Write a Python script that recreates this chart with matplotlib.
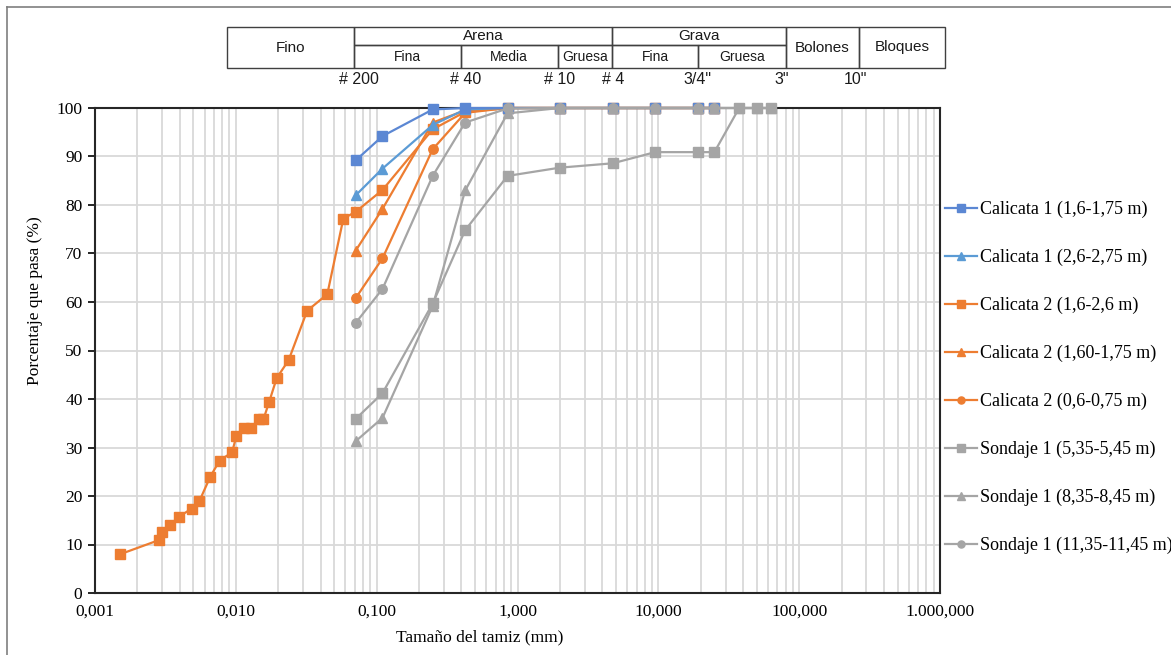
import matplotlib
matplotlib.use('Agg')
import matplotlib.pyplot as plt
from matplotlib.ticker import LogLocator, NullFormatter
from matplotlib.transforms import blended_transform_factory
from matplotlib.lines import Line2D
from matplotlib.patches import Rectangle

# tamices (mm)
sieves_c = [0.071, 0.11, 0.25, 0.425, 0.85, 2.0, 4.75, 9.5, 19.0, 25.0]
sieves_s = [0.071, 0.11, 0.25, 0.425, 0.85, 2.0, 4.75, 9.5, 19.0, 25.0, 37.5, 50.0, 63.0]

c1_a = [89.2, 94.2, 99.7, 100, 100, 100, 100, 100, 100, 100]
c1_b = [82.0, 87.5, 96.5, 99.7, 100, 100, 100, 100, 100, 100]

# Calicata 2 (1,6-2,6 m): hidrometro + tamizado
c2_a_x = [0.00151, 0.00284, 0.0030, 0.0034, 0.00394, 0.00485, 0.0055, 0.00659,
          0.00767, 0.0094, 0.0101, 0.0114, 0.0128, 0.0145, 0.0157, 0.0172,
          0.0195, 0.0237, 0.0321, 0.0446, 0.058,
          0.071, 0.11, 0.25, 0.425, 0.85, 2.0, 4.75, 9.5, 19.0, 25.0]
c2_a = [8.0, 10.9, 12.5, 14.0, 15.7, 17.4, 18.9, 24.0,
        27.3, 29.0, 32.4, 34.0, 34.0, 35.8, 35.8, 39.3,
        44.3, 48.0, 58.2, 61.6, 77.2,
        78.6, 83.1, 95.6, 99.2, 100, 100, 100, 100, 100, 100]
c2_b = [70.6, 79.2, 97.0, 99.5, 100, 100, 100, 100, 100, 100]
c2_c = [60.8, 69.0, 91.5, 99.0, 100, 100, 100, 100, 100, 100]

s1_a = [35.9, 41.2, 59.7, 74.8, 86.0, 87.7, 88.6, 90.9, 90.9, 90.9, 100, 100, 100]
s1_b = [31.3, 36.1, 59.2, 83.0, 98.9, 100, 100, 100, 100, 100, 100, 100, 100]
s1_c = [55.7, 62.7, 86.0, 97.0, 99.9, 100, 100, 100, 100, 100, 100, 100, 100]

labels = ['Calicata 1 (1,6-1,75 m)', 'Calicata 1 (2,6-2,75 m)', 'Calicata 2 (1,6-2,6 m)',
          'Calicata 2 (1,60-1,75 m)', 'Calicata 2 (0,6-0,75 m)', 'Sondaje 1 (5,35-5,45 m)',
          'Sondaje 1 (8,35-8,45 m)', 'Sondaje 1 (11,35-11,45 m)']

xticks = [0.001, 0.01, 0.1, 1, 10, 100, 1000]
xticklabels = ['0,001', '0,010', '0,100', '1,000', '10,000', '100,000', '1.000,000']

# tabla de clasificacion (limites en mm)
tab_edges = [0.0087, 0.069, 0.396, 1.93, 4.71, 19.2, 80.5, 267, 1090]
sieve_marks = [0.075, 0.425, 2.0, 4.75, 19.0, 75.0, 250.0]
sieve_names = ['# 200', '# 40', '# 10', '# 4', '3/4"', '3"', '10"']

W, H = 1171, 655
fig = plt.figure(figsize=(W / 100, H / 100), dpi=100)
ax = fig.add_axes([95 / W, 62 / H, 845 / W, 485 / H])

blue = '#5B87D3'
lblue = '#5B9BD5'
orange = '#ED7D31'
gray = '#A5A5A5'
kw = dict(lw=1.6, ms=6.8, clip_on=False, zorder=3)

ax.plot(sieves_s, s1_c, '-o', color=gray, label=labels[7], **kw)
ax.plot(sieves_s, s1_b, '-^', color=gray, label=labels[6], **kw)
ax.plot(sieves_s, s1_a, '-s', color=gray, label=labels[5], **kw)
ax.plot(sieves_c, c2_c, '-o', color=orange, label=labels[4], **kw)
ax.plot(sieves_c, c2_b, '-^', color=orange, label=labels[3], **kw)
ax.plot(c2_a_x, c2_a, '-s', color=orange, label=labels[2], **kw)
ax.plot(sieves_c, c1_b, '-^', color=lblue, label=labels[1], **kw)
ax.plot(sieves_c, c1_a, '-s', color=blue, label=labels[0], **kw)

# sondaje encima en la zona de 100
for ln in ax.lines[:3]:
    ln.set_zorder(4)

ax.set_xscale('log')
ax.set_xlim(0.001, 1000)
ax.set_ylim(0, 100)
ax.set_xticks(xticks)
ax.set_xticklabels(xticklabels)
ax.xaxis.set_minor_locator(LogLocator(base=10, subs=range(2, 10)))
ax.xaxis.set_minor_formatter(NullFormatter())
ax.set_yticks(range(0, 101, 10))
ax.grid(True, which='both', axis='x', color='#D9D9D9', lw=1.3)
ax.grid(True, which='major', axis='y', color='#D9D9D9', lw=1.3)
ax.set_axisbelow(True)
ax.tick_params(axis='x', which='both', length=0, pad=8)
ax.tick_params(axis='y', length=5, width=1.2, pad=4)
for t in ax.get_xticklabels() + ax.get_yticklabels():
    t.set_fontfamily('Liberation Serif')
    t.set_fontsize(12.5)
for s in ax.spines.values():
    s.set_color('#262626')
    s.set_linewidth(1.5)

ax.set_xlabel('Tamaño del tamiz (mm)', fontfamily='Liberation Serif', fontsize=12.5)
ax.set_ylabel('Porcentaje que pasa (%)', fontfamily='Liberation Serif', fontsize=12.5)
ax.xaxis.set_label_coords((480 - 95) / 845, -(629 - 593) / 485)
ax.yaxis.set_label_coords(-(95 - 43) / 845, (593 - 301) / 485)

h, l = ax.get_legend_handles_labels()
ax.legend(h[::-1], l[::-1], loc='upper left', bbox_to_anchor=(945 / W, 1 - 201 / H),
          bbox_transform=fig.transFigure, frameon=False,
          prop={'family': 'Liberation Serif', 'size': 13},
          handlelength=1.75, handletextpad=0.2, labelspacing=1.7,
          borderpad=0, borderaxespad=0, markerscale=0.75)

# tabla superior
tr = blended_transform_factory(ax.transData, fig.transFigure)
y_top, y_mid, y_bot = 1 - 26.7 / H, 1 - 45 / H, 1 - 68.3 / H
lc = '#404040'
def box(x0, x1, y0, y1):
    ax.add_patch(Rectangle((x0, y0), x1 - x0, y1 - y0, transform=tr, fill=False,
                           ec=lc, lw=1.0, clip_on=False))

def txt(x0, x1, y, s, size):
    xm = (x0 * x1) ** 0.5
    ax.text(xm, y, s, transform=tr, ha='center', va='center', fontsize=size,
            fontfamily='Liberation Sans', color='#1a1a1a', clip_on=False)

e = tab_edges
box(e[0], e[1], y_bot, y_top); txt(e[0], e[1], (y_top + y_bot) / 2, 'Fino', 11)
box(e[1], e[4], y_mid, y_top); txt(e[1], e[4], (y_top + y_mid) / 2, 'Arena', 11)
box(e[4], e[6], y_mid, y_top); txt(e[4], e[6], (y_top + y_mid) / 2, 'Grava', 11)
sub_names = ['Fina', 'Media', 'Gruesa', 'Fina', 'Gruesa']
for i, nm in enumerate(sub_names):
    box(e[i + 1], e[i + 2], y_bot, y_mid)
    txt(e[i + 1], e[i + 2], (y_mid + y_bot) / 2, nm, 10)
box(e[6], e[7], y_bot, y_top); txt(e[6], e[7], (y_top + y_bot) / 2, 'Bolones', 11)
box(e[7], e[8], y_bot, y_top); txt(e[7], e[8], (y_top + y_bot) / 2, 'Bloques', 11)

for xs, nm in zip(sieve_marks, sieve_names):
    ax.text(xs, 1 - 80 / H, nm, transform=tr, ha='center', va='center', fontsize=11.5,
            fontfamily='Liberation Sans', color='#1a1a1a', clip_on=False)

# marco exterior
fig.add_artist(Line2D([7 / W, 7 / W], [0, 1 - 7 / H], transform=fig.transFigure, color='#7f7f7f', lw=1.2))
fig.add_artist(Line2D([7 / W, 1], [1 - 7 / H, 1 - 7 / H], transform=fig.transFigure, color='#7f7f7f', lw=1.2))

fig.savefig('out.png', dpi=100)
